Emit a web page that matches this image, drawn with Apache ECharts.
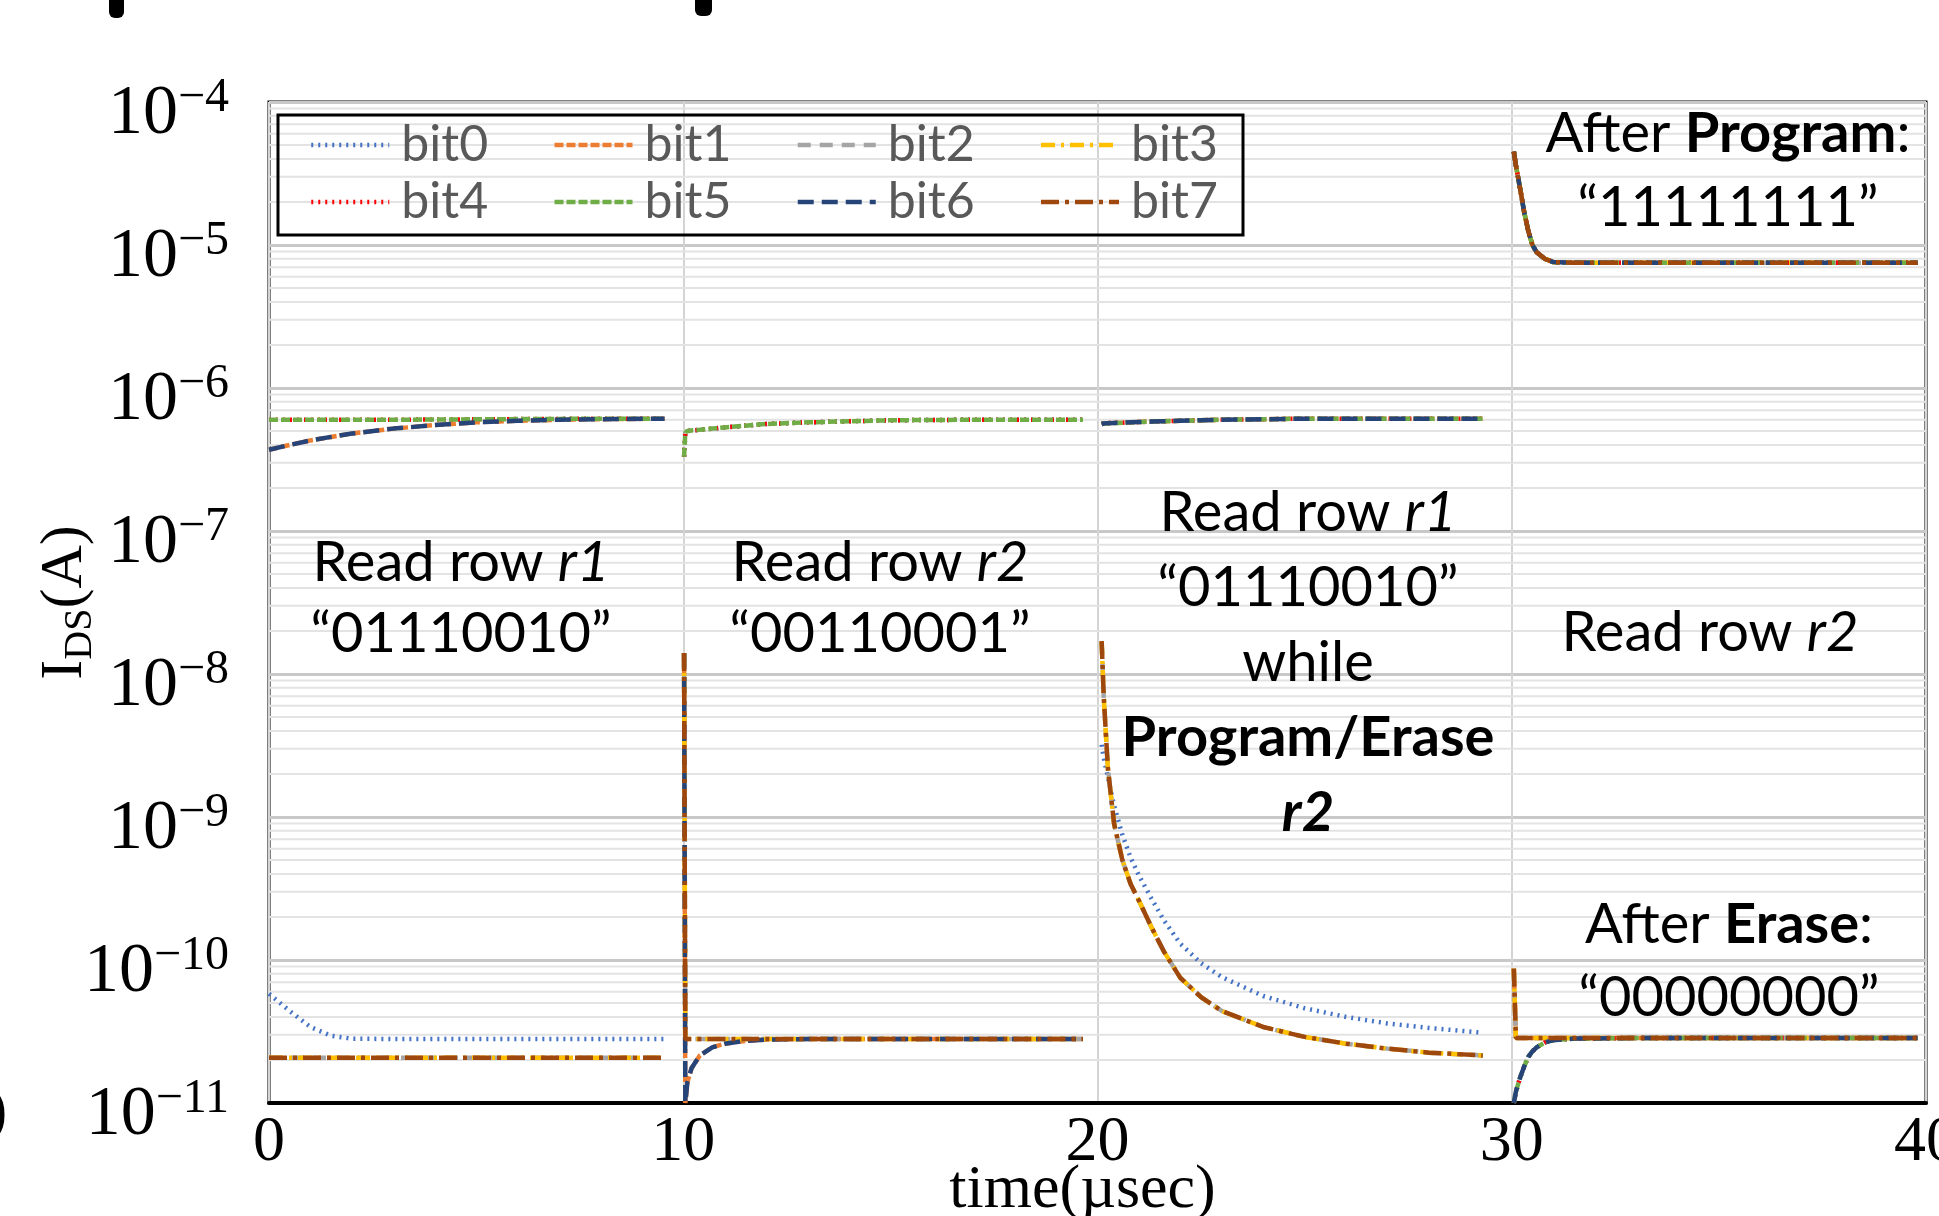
<!DOCTYPE html>
<html>
<head>
<meta charset="utf-8">
<script src="https://cdn.jsdelivr.net/npm/echarts@6/dist/echarts.min.js"></script>
<style>
  html, body { margin: 0; padding: 0; background: #fff; }
  #chart { width: 1939px; height: 1216px; }
</style>
</head>
<body>
<div id="chart"></div>
<script>
// ---- data (time in usec, current in A) ----
const bitNames = ['bit0', 'bit1', 'bit2', 'bit3', 'bit4', 'bit5', 'bit6', 'bit7']
const bitColors = ['#4472C4', '#ED7D31', '#A5A5A5', '#FFC000', '#FF0000', '#70AD47', '#264478', '#9E480E']
const bitDash = [[2, 5], [9, 3], [13, 9], [14, 6, 3, 6], [2, 5], [9, 3], [16, 8], [18, 6, 4, 6]]

// read row r1
const tSeg1 = [0, 0.5, 1, 1.5, 2, 3, 4, 5, 6, 7, 8, 9.55]
const seg1Rise = [3.7e-7, 4.0e-7, 4.3e-7, 4.55e-7, 4.8e-7, 5.2e-7, 5.5e-7, 5.75e-7, 5.9e-7, 6.0e-7, 6.05e-7, 6.1e-7]
const seg1Flat = [6.0e-7, 6.0e-7, 6.0e-7, 6.0e-7, 6.0e-7, 6.0e-7, 6.02e-7, 6.04e-7, 6.06e-7, 6.08e-7, 6.1e-7, 6.1e-7]
const seg1Bit0 = [5.8e-11, 4.4e-11, 3.4e-11, 2.95e-11, 2.82e-11, 2.8e-11, 2.8e-11, 2.8e-11, 2.8e-11, 2.8e-11, 2.8e-11, 2.8e-11]
const seg1Low = [2.07e-11, 2.07e-11, 2.07e-11, 2.07e-11, 2.07e-11, 2.07e-11, 2.07e-11, 2.07e-11, 2.07e-11, 2.07e-11, 2.07e-11, 2.07e-11]

// read row r2
const tSeg2 = [10.02, 10.05, 10.1, 10.2, 10.4, 10.7, 11, 11.5, 12, 13, 15, 17, 19.65]
const seg2High = [3.3e-7, 4.9e-7, 5.0e-7, 5.05e-7, 5.1e-7, 5.2e-7, 5.3e-7, 5.45e-7, 5.6e-7, 5.75e-7, 5.95e-7, 6.0e-7, 6.0e-7]
const seg2Spike = [1.4e-8, 2.8e-11, 2.8e-11, 2.8e-11, 2.8e-11, 2.8e-11, 2.8e-11, 2.8e-11, 2.8e-11, 2.8e-11, 2.8e-11, 2.8e-11, 2.8e-11]
const seg2Dip = [1.4e-8, 1.0e-11, 1.4e-11, 1.75e-11, 2.15e-11, 2.45e-11, 2.6e-11, 2.72e-11, 2.78e-11, 2.8e-11, 2.8e-11, 2.8e-11, 2.8e-11]

// read row r1 while program/erase r2
const tSeg3 = [20.1, 20.15, 20.25, 20.4, 20.6, 20.8, 21, 21.3, 21.6, 22, 22.5, 23, 24, 25, 26, 27, 28, 29.3]
const seg3High = [5.6e-7, 5.65e-7, 5.68e-7, 5.7e-7, 5.72e-7, 5.75e-7, 5.78e-7, 5.82e-7, 5.86e-7, 5.9e-7, 5.95e-7, 6.0e-7, 6.05e-7, 6.1e-7, 6.1e-7, 6.1e-7, 6.1e-7, 6.1e-7]
const seg3Low = [1.7e-8, 7e-9, 2.2e-9, 9e-10, 5e-10, 3.4e-10, 2.6e-10, 1.7e-10, 1.15e-10, 7.5e-11, 5.5e-11, 4.4e-11, 3.4e-11, 2.9e-11, 2.6e-11, 2.4e-11, 2.25e-11, 2.15e-11]
const seg3Bit0 = [3.2e-9, 2.6e-9, 1.9e-9, 1.2e-9, 7.5e-10, 5.2e-10, 3.9e-10, 2.7e-10, 1.9e-10, 1.3e-10, 9.5e-11, 7.6e-11, 5.6e-11, 4.6e-11, 4.0e-11, 3.6e-11, 3.35e-11, 3.1e-11]

// read row r2 after program / after erase
const tSeg4 = [30.05, 30.1, 30.2, 30.3, 30.4, 30.5, 30.6, 30.8, 31, 31.5, 33, 36, 39.8]
const seg4Program = [4.5e-5, 3.6e-5, 2.5e-5, 1.7e-5, 1.25e-5, 1.0e-5, 8.9e-6, 8.0e-6, 7.6e-6, 7.5e-6, 7.5e-6, 7.5e-6, 7.5e-6]
const seg4EraseSpike = [8.7e-11, 2.85e-11, 2.85e-11, 2.85e-11, 2.85e-11, 2.85e-11, 2.85e-11, 2.85e-11, 2.85e-11, 2.85e-11, 2.85e-11, 2.85e-11, 2.85e-11]
const seg4EraseDip = [1.0e-11, 1.2e-11, 1.5e-11, 1.8e-11, 2.1e-11, 2.3e-11, 2.45e-11, 2.65e-11, 2.75e-11, 2.82e-11, 2.85e-11, 2.85e-11, 2.85e-11]

// which curve each bit follows in every window
const bitCurves = [
  [seg1Bit0, seg2High, seg3Bit0, seg4Program, seg4EraseDip],
  [seg1Rise, seg2Dip, seg3High, seg4Program, seg4EraseSpike],
  [seg1Low, seg2Spike, seg3Low, seg4Program, seg4EraseSpike],
  [seg1Low, seg2Spike, seg3Low, seg4Program, seg4EraseSpike],
  [seg1Flat, seg2High, seg3High, seg4Program, seg4EraseDip],
  [seg1Flat, seg2High, seg3High, seg4Program, seg4EraseDip],
  [seg1Rise, seg2Dip, seg3High, seg4Program, seg4EraseDip],
  [seg1Low, seg2Spike, seg3Low, seg4Program, seg4EraseSpike]
]
const segTimes = [tSeg1, tSeg2, tSeg3, tSeg4, tSeg4]

const minorMultipliers = [2, 3, 4, 5, 6, 7, 8, 9]
const decades = [-11, -10, -9, -8, -7, -6, -5]

const serif = 'Liberation Serif'
const sans = 'Lato'

function buildData (curves) {
  const out = []
  curves.forEach((vals, i) => {
    const ts = segTimes[i]
    ts.forEach((t, k) => out.push([t, vals[k]]))
    out.push([ts[ts.length - 1] + 0.01, '-']) // break between windows
  })
  return out
}

const series = bitNames.map((name, i) => ({
  name: name,
  type: 'line',
  symbol: 'none',
  showSymbol: false,
  connectNulls: false,
  z: 3,
  lineStyle: { color: bitColors[i], width: 4.5, type: bitDash[i] },
  itemStyle: { color: bitColors[i] },
  data: buildData(bitCurves[i])
}))

// minor log grid lines (2..9 in every decade), drawn on the axes
const minorData = []
decades.forEach(d => {
  minorMultipliers.forEach(m => {
    const v = m * Math.pow(10, d)
    minorData.push([0, v], [40, v], [40, '-'])
  })
})
series.unshift({
  name: 'minorGrid',
  type: 'line',
  data: minorData,
  symbol: 'none',
  connectNulls: false,
  z: 1,
  silent: true,
  lineStyle: { color: '#E3E3E3', width: 2, type: 'solid' }
})

const legendText = { fontFamily: sans, fontSize: 50, color: '#595959', width: 100, lineHeight: 56, padding: [0, 0, 0, 7] }

const myChart = echarts.init(document.getElementById('chart'))
myChart.setOption({
  animation: false,
  backgroundColor: '#fff',
  grid: {
    left: 269,
    right: 13,
    top: 102,
    bottom: 113,
    containLabel: false,
    outerBoundsMode: 'none',
    show: true,
    borderColor: '#000',
    borderWidth: 3
  },
  legend: [
    {
      data: bitNames.slice(0, 4),
      left: 309,
      top: 117,
      padding: 0,
      itemWidth: 78,
      itemHeight: 20,
      itemGap: 51,
      itemStyle: { opacity: 0 },
      lineStyle: { width: 4.5 },
      textStyle: legendText
    },
    {
      data: bitNames.slice(4),
      left: 309,
      top: 174,
      padding: 0,
      itemWidth: 78,
      itemHeight: 20,
      itemGap: 51,
      itemStyle: { opacity: 0 },
      lineStyle: { width: 4.5 },
      textStyle: legendText
    }
  ],
  xAxis: {
    type: 'value',
    min: 0,
    max: 40,
    interval: 10,
    name: 'time(µsec)',
    nameLocation: 'middle',
    nameGap: 57,
    nameMoveOverlap: false,
    nameTextStyle: { fontFamily: serif, fontSize: 62, color: '#000', padding: [0, 30, 0, 0] },
    axisLine: { show: true, lineStyle: { color: '#000', width: 4 } },
    axisTick: { show: false },
    axisLabel: { fontFamily: serif, fontSize: 64, color: '#000', margin: 8 },
    splitLine: { show: true, lineStyle: { color: '#D4D4D4', width: 2 } }
  },
  yAxis: {
    type: 'log',
    logBase: 10,
    min: 1e-11,
    max: 1e-4,
    splitNumber: 7,
    name: '{i|I}{d|DS}{i|(A)}',
    nameLocation: 'middle',
    nameRotate: 90,
    nameGap: 169,
    nameMoveOverlap: false,
    nameTextStyle: {
      rich: {
        i: { fontFamily: serif, fontSize: 60, color: '#000', lineHeight: 70 },
        d: { fontFamily: serif, fontSize: 40, color: '#000', lineHeight: 40, padding: [30, 0, 0, 0] }
      }
    },
    axisLine: { show: false },
    axisTick: { show: false },
    axisLabel: {
      margin: 40,
      padding: [25, 0, 0, 0],
      formatter: function (v) {
        const e = Math.round(Math.log10(v))
        return '{b|10}{s|\u2212' + (-e) + '}'
      },
      rich: {
        b: { fontFamily: serif, fontSize: 70, color: '#000', lineHeight: 84 },
        s: { fontFamily: serif, fontSize: 48, color: '#000', lineHeight: 44, padding: [0, 0, 32, 0] }
      }
    },
    splitLine: { show: true, lineStyle: { color: '#C8C8C8', width: 3 } }
  },
  graphic: [
    // legend frame
    { type: 'rect', shape: { x: 278, y: 115, width: 965, height: 120 }, style: { fill: 'none', stroke: '#000', lineWidth: 3 }, z: 10 },
    // cut-off marks at the image edges
    { type: 'rect', shape: { x: 109, y: -10, width: 15, height: 28, r: 6 }, style: { fill: '#000' } },
    { type: 'rect', shape: { x: 695, y: -10, width: 17, height: 26, r: 6 }, style: { fill: '#000' } },
    { type: 'text', x: -14, y: 1113, style: { text: ')', font: '64px "Liberation Serif"', fill: '#000', textAlign: 'left', textVerticalAlign: 'middle' } },
    // annotations
    annotation(461, 598, 71, 'Read row {i|r1}\n\u201C01110010\u201D'),
    annotation(880, 598, 71, 'Read row {i|r2}\n\u201C00110001\u201D'),
    annotation(1308, 663, 75, 'Read row {i|r1}\n\u201C01110010\u201D\nwhile\n{b|Program/Erase}\n{bi|r2}'),
    annotation(1728, 171, 74, 'After {b|Program}:\n\u201C11111111\u201D'),
    annotation(1710, 633, 70, 'Read row {i|r2}'),
    annotation(1729, 961, 73, 'After {b|Erase}:\n\u201C00000000\u201D')
  ],
  series: series
})

function annotation (x, y, lh, text) {
  const base = { fontFamily: sans, fontSize: 56, fill: '#000', lineHeight: lh }
  return {
    type: 'text',
    x: x,
    y: y,
    z: 20,
    style: {
      text: text,
      fontFamily: sans,
      fontSize: 56,
      fill: '#000',
      lineHeight: lh,
      textAlign: 'center',
      textVerticalAlign: 'middle',
      rich: {
        i: Object.assign({}, base, { fontStyle: 'italic' }),
        b: Object.assign({}, base, { fontWeight: 'bold' }),
        bi: Object.assign({}, base, { fontWeight: 'bold', fontStyle: 'italic' })
      }
    }
  }
}
</script>
</body>
</html>
